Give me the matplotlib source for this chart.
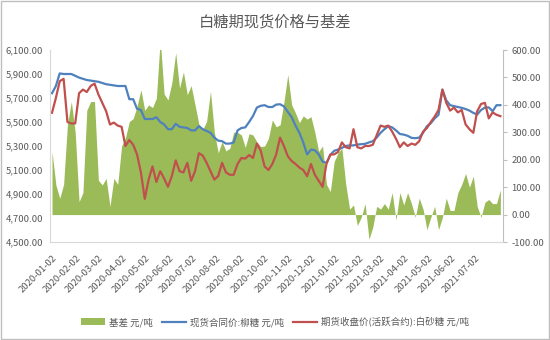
"""White sugar spot vs. futures prices with the basis as a filled area."""

import matplotlib

matplotlib.use("Agg")
import matplotlib.pyplot as plt
from matplotlib.lines import Line2D
from matplotlib.patches import Patch, Rectangle
from matplotlib.transforms import ScaledTranslation
import pandas as pd

plt.rcParams["font.family"] = ["Noto Sans CJK SC", "DejaVu Sans"]

TEXT = "#595959"
GREEN = "#9BBB59"
BLUE = "#4F81BD"
RED = "#C0504D"

# sampled every 5 calendar days from 2020-01-02
dates = pd.date_range("2020-01-02", periods=117, freq="5D")

spot = [
    5740, 5800, 5905, 5900, 5900, 5900, 5885, 5870, 5860, 5850,
    5845, 5840, 5835, 5825, 5815, 5810, 5805, 5800, 5800, 5800,
    5690, 5690, 5610, 5600, 5525, 5525, 5525, 5540, 5500, 5480,
    5440, 5440, 5485, 5460, 5455, 5450, 5430, 5430, 5465, 5440,
    5425, 5410, 5370, 5345, 5340, 5320, 5320, 5330, 5430, 5450,
    5455, 5500, 5550, 5620, 5635, 5640, 5625, 5625, 5645, 5648,
    5630, 5585, 5540, 5470, 5410, 5330, 5230, 5270, 5265, 5230,
    5170, 5160, 5225, 5260, 5270, 5285, 5300, 5305, 5305, 5312,
    5315, 5318, 5330, 5340, 5370, 5410, 5440, 5465, 5455, 5430,
    5400, 5395, 5385, 5368, 5365, 5370, 5410, 5465, 5490, 5530,
    5560, 5770, 5680, 5640, 5632, 5625, 5618, 5608, 5595, 5576,
    5562, 5600, 5620, 5622, 5590, 5640, 5640,
]

futures = [
    5577, 5700, 5840, 5860, 5500, 5488, 5488, 5740, 5770, 5750,
    5800, 5820, 5730, 5660, 5590, 5479, 5495, 5470, 5460, 5300,
    5350, 5310, 5230, 5080, 4860, 5021, 5130, 5000, 5090, 5030,
    4960, 5050, 5180, 5090, 5080, 5160, 5010, 5090, 5240, 5220,
    5160, 5090, 5020, 5050, 5160, 5080, 5060, 5060, 5150, 5200,
    5195, 5225, 5200, 5320, 5260, 5130, 5100, 5150, 5230, 5370,
    5300, 5215, 5175, 5150, 5120, 5100, 5048, 5150, 5060, 5010,
    4960, 5150, 5229, 5230, 5250, 5330, 5290, 5280, 5440, 5290,
    5280, 5300, 5300, 5310, 5390, 5470, 5460, 5470, 5420, 5360,
    5290, 5330, 5300, 5320, 5310, 5340, 5420, 5450, 5500, 5545,
    5600, 5770, 5660, 5595, 5620, 5580, 5600, 5480, 5440, 5410,
    5590, 5650, 5660, 5530, 5580, 5560, 5549,
]

basis = [
    230, 108, 59, 110, 330, 412, 300, 47, 80, 380,
    412, 412, 125, 108, 132, 30, 132, 110, 250, 280,
    339, 350, 394, 455, 380, 400, 390, 424, 640, 440,
    418, 480, 590, 461, 520, 437, 470, 400, 330, 310,
    340, 449, 300, 225, 266, 232, 242, 300, 300, 290,
    245, 295, 290, 265, 248, 250, 278, 345, 320, 327,
    410, 510, 400, 370, 335, 360, 348, 357, 300, 230,
    250, 110, 84, 193, 225, 242, 110, 20, 35, -40,
    -10, 40, -90, -45, 30, 20, 40, 20, 80, -20,
    80, 35, 80, 40, -10, 60, 20, -55, -10, 30,
    -55, -10, 60, 15, 15, 80, 110, 150, 100, 140,
    30, -10, 45, 55, 40, 40, 90,
]

labels = ["基差 元/吨", "现货合同价:柳糖 元/吨", "期货收盘价(活跃合约):白砂糖 元/吨"]

fig = plt.figure(figsize=(5.5, 3.4), dpi=100)
ax = fig.add_axes([50 / 550, 1 - 242 / 340, 453 / 550, 192 / 340])
ax2 = ax.twinx()

ax2.fill_between(dates, 0, basis, color=GREEN, lw=0)
ax.plot(dates, spot, color=BLUE, lw=1.6)
ax.plot(dates, futures, color=RED, lw=1.6)
# price lines above the basis area
ax.set_zorder(ax2.get_zorder() + 1)
ax.patch.set_visible(False)

ax.set_ylim(4500, 6100)
ax.set_yticks(range(4500, 6101, 200))
ax.set_yticklabels([f"{v:,.2f}" for v in range(4500, 6101, 200)])
ax2.set_ylim(-100, 600)
ax2.set_yticks(range(-100, 601, 100))
ax2.set_yticklabels([f"{v:.2f}" for v in range(-100, 601, 100)])

start = pd.Timestamp("2020-01-02")
ax.set_xlim(start - pd.Timedelta(days=2.6), start + pd.Timedelta(days=583.4))
ticks = pd.date_range("2020-01-01", "2021-07-01", freq="MS") + pd.Timedelta(days=1)
ax.set_xticks(ticks)
ax.set_xticklabels([t.strftime("%Y-%m-%d") for t in ticks], rotation=45,
                   ha="right", va="top", rotation_mode="anchor")
shift = ScaledTranslation(4 / 100, 0, fig.dpi_scale_trans)
for lbl in ax.get_xticklabels():
    lbl.set_transform(lbl.get_transform() + shift)

for a in (ax, ax2):
    a.spines["top"].set_visible(False)
ax.spines["right"].set_visible(False)
ax2.spines["left"].set_visible(False)
ax2.spines["bottom"].set_visible(False)
ax.spines["left"].set_color("#d9d9d9")
ax.spines["bottom"].set_color("#d9d9d9")
ax2.spines["right"].set_color("#bfbfbf")

ax.tick_params(axis="y", length=0, pad=5, labelsize=6.8, labelcolor=TEXT)
ax.tick_params(axis="x", length=0, pad=8, labelsize=6.8, labelcolor=TEXT)
ax2.tick_params(axis="y", length=3, color="#bfbfbf", pad=3, labelsize=6.8, labelcolor=TEXT)

fig.text(0.5, 1 - 22 / 340, "白糖期现货价格与基差", ha="center", va="center",
         fontsize=11, color=TEXT)

handles = [
    Patch(facecolor=GREEN, edgecolor="none"),
    Line2D([], [], color=BLUE, lw=1.6),
    Line2D([], [], color=RED, lw=1.6),
]
fig.legend(handles, labels, loc="center", bbox_to_anchor=(0.5, 1 - 322 / 340),
           ncol=3, frameon=False, fontsize=6.8, labelcolor=TEXT,
           handlelength=2.6, handleheight=0.8, handletextpad=0.4, columnspacing=0.9)

fig.patches.append(Rectangle((0.001, 0.002), 0.997, 0.996, transform=fig.transFigure,
                             fill=False, edgecolor="#bfbfbf", lw=1))

fig.savefig("out.png", dpi=100)
